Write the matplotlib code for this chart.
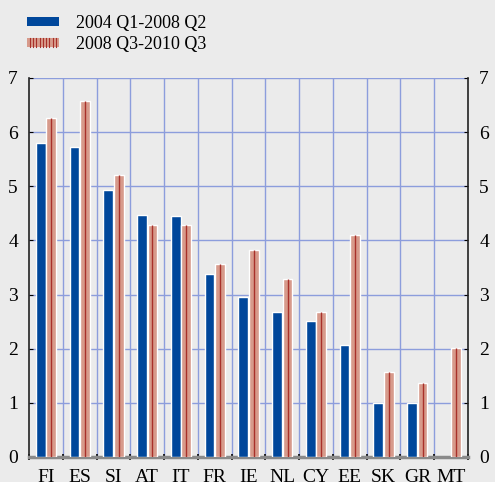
import matplotlib
matplotlib.use("Agg")
import matplotlib.pyplot as plt
import numpy as np
from matplotlib.patches import Patch
from matplotlib.legend_handler import HandlerPatch

# data
countries = ["FI", "ES", "SI", "AT", "IT", "FR", "IE", "NL", "CY", "EE", "SK", "GR", "MT"]
pre_crisis = [5.80, 5.73, 4.93, 4.47, 4.45, 3.38, 2.96, 2.68, 2.51, 2.07, 1.00, 1.00, np.nan]
post_crisis = [6.27, 6.58, 5.21, 4.29, 4.29, 3.57, 3.83, 3.29, 2.68, 4.10, 1.57, 1.37, 2.01]
labels = ["2004 Q1-2008 Q2", "2008 Q3-2010 Q3"]

BG = "#ebebeb"
BLUE = "#00479b"
SALMON = "#d79a8b"
DARKRED = "#a8302a"
GRID = "#8c9ddc"

plt.rcParams['font.family'] = ['Liberation Serif', 'DejaVu Serif']

fig = plt.figure(figsize=(4.95, 4.82), dpi=100, facecolor=BG)
ax = fig.add_axes([0.0586, 0.0519, 0.8869, 0.7863], facecolor=BG)

x = np.arange(len(countries))
w = 0.29
ax.bar(x - w / 2 - 0.01, pre_crisis, w, color=BLUE, edgecolor="white", linewidth=1, zorder=3)
ax.bar(x + w / 2 + 0.01, post_crisis, w, color=SALMON, edgecolor="white", linewidth=1, zorder=3)
# thin dark line down the middle of the red bars
ax.vlines(x + w / 2 + 0.01, 0, post_crisis, color=DARKRED, linewidth=1, zorder=4)

ax.set_xlim(-0.5, len(countries) - 0.5)
ax.set_ylim(0, 7)

# grid
for b in np.arange(0.5, len(countries) - 0.5, 1):
    ax.axvline(b, color=GRID, linewidth=1, zorder=1)
for yv in range(1, 8):
    ax.axhline(yv, color=GRID, linewidth=1, zorder=1)

ax.set_xticks(x)
ax.set_xticklabels(countries, fontsize=14)
ax.set_xticks(np.arange(-0.5, len(countries) - 0.4, 1), minor=True)
ax.tick_params(axis="x", which="major", length=0, pad=9)
ax.tick_params(axis="x", which="minor", length=4, width=1.2, color="black", direction="inout")

ax.set_yticks(range(0, 8))
ax.tick_params(axis="y", labelsize=14, length=3, direction="in", pad=8,
               labelleft=True, labelright=True, left=True, right=True)

for s in ["left", "right"]:
    ax.spines[s].set_color("#222222")
    ax.spines[s].set_linewidth(1.2)
ax.spines["top"].set_visible(False)
ax.spines["bottom"].set_color("#8a8a8a")
ax.spines["bottom"].set_linewidth(2.5)


class StripedHandler(HandlerPatch):
    def create_artists(self, legend, orig_handle, xdescent, ydescent, width, height, fontsize, trans):
        arts = []
        r = plt.Rectangle((-xdescent, -ydescent + height * 0.1), width, height * 0.8,
                          facecolor=SALMON, edgecolor="none", transform=trans)
        arts.append(r)
        for xi in np.linspace(-xdescent + 2, -xdescent + width - 2, 9):
            ln = plt.Line2D([xi, xi], [-ydescent + height * 0.1, -ydescent + height * 0.9],
                            color=DARKRED, linewidth=0.8, transform=trans)
            arts.append(ln)
        return arts


class SolidHandler(HandlerPatch):
    def create_artists(self, legend, orig_handle, xdescent, ydescent, width, height, fontsize, trans):
        r = plt.Rectangle((-xdescent, -ydescent + height * 0.1), width, height * 0.8,
                          facecolor=BLUE, edgecolor="none", transform=trans)
        return [r]


h1 = Patch(color=BLUE)
h2 = Patch(color=SALMON)
fig.legend([h1, h2], labels, loc="upper left", bbox_to_anchor=(0.022, 1.003),
           frameon=False, fontsize=13, handlelength=1.75, handleheight=0.55,
           handletextpad=0.95, labelspacing=0.22,
           handler_map={h1: SolidHandler(), h2: StripedHandler()})

fig.savefig("out.png", dpi=100, facecolor=BG)
